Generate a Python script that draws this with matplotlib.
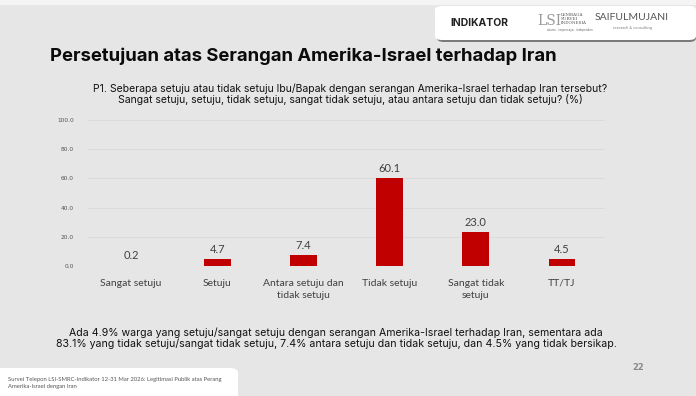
import matplotlib
matplotlib.use("Agg")
import matplotlib.pyplot as plt
from matplotlib.patches import FancyBboxPatch, Rectangle

# data
kategori = ["Sangat setuju", "Setuju", "Antara setuju dan\ntidak setuju",
            "Tidak setuju", "Sangat tidak\nsetuju", "TT/TJ"]
persen = [0.2, 4.7, 7.4, 60.1, 23.0, 4.5]
yticks = [0, 20, 40, 60, 80, 100]

BG = "#e7e6e6"
RED = "#c00000"
INK = "#0b0b0b"
GRAY = "#404040"

W, H = 696, 396
fig = plt.figure(figsize=(W / 100, H / 100), dpi=100)
fig.patch.set_facecolor(BG)


def fx(px):
    return px / W


def fy(py):
    return 1 - py / H


# top strip
fig.patches.append(Rectangle((0, fy(5)), 1, fy(0) - fy(5), transform=fig.transFigure,
                             facecolor="#f4f4f4", edgecolor="none", zorder=0))

# logo box with shadow
fig.patches.append(FancyBboxPatch((fx(437), fy(42)), fx(259), fy(7) - fy(42),
                                  boxstyle="round,pad=0,rounding_size=0.01",
                                  transform=fig.transFigure, facecolor="#7a7a7a",
                                  edgecolor="none", zorder=1))
fig.patches.append(FancyBboxPatch((fx(435), fy(40)), fx(261), fy(6) - fy(40),
                                  boxstyle="round,pad=0,rounding_size=0.01",
                                  transform=fig.transFigure, facecolor="white",
                                  edgecolor="none", zorder=2))
fig.text(fx(450), fy(23), "INDIKATOR", fontsize=7.5, weight="bold", family="Inter",
         color="#222222", va="center", ha="left", zorder=3)
fig.text(fx(537), fy(21), "LSI", fontsize=10, family="DejaVu Serif", color="#9a9a9a",
         va="center", ha="left", zorder=3)
fig.text(fx(561), fy(19), "LEMBAGA\nSURVEI\nINDONESIA", fontsize=3, family="DejaVu Serif",
         color="#555555", va="center", ha="left", linespacing=0.9, zorder=3)
fig.text(fx(570), fy(30), "akurat - terpercaya - independen", fontsize=2, color="#666666",
         va="center", ha="center", zorder=3)
fig.text(fx(632), fy(18), "SAIFULMUJANI", fontsize=7.5, family="Lato", color="#555555",
         va="center", ha="center", zorder=3)
fig.text(fx(632), fy(28), "research & consulting", fontsize=2.5, color="#777777",
         va="center", ha="center", zorder=3)

# title
fig.text(fx(50), fy(56), "Persetujuan atas Serangan Amerika-Israel terhadap Iran",
         fontsize=13.3, weight="bold", family="Inter", color=INK, va="center", ha="left")

# subtitle
fig.text(fx(350), fy(94),
         "P1. Seberapa setuju atau tidak setuju Ibu/Bapak dengan serangan Amerika-Israel terhadap Iran tersebut?\n"
         "Sangat setuju, setuju, tidak setuju, sangat tidak setuju, atau antara setuju dan tidak setuju? (%)",
         fontsize=7.5, family="Inter", color="#111111", ha="center", va="center",
         linespacing=1.05)

# chart
ax = fig.add_axes([fx(88), fy(266), fx(605) - fx(88), fy(120) - fy(266)])
ax.set_facecolor("none")
x = range(len(kategori))
bars = ax.bar(x, persen, width=0.31, color=RED, zorder=3)
for b, v in zip(bars, persen):
    ax.text(b.get_x() + b.get_width() / 2, v + 3, f"{v:.1f}", ha="center", va="bottom",
            fontsize=8, family="Lato", color=GRAY)
ax.set_xlim(-0.5, len(kategori) - 0.5)
ax.set_ylim(0, 100)
ax.set_yticks(yticks)
ax.set_yticklabels([f"{t:.1f}" for t in yticks], fontsize=4.2, color="#555555")
ax.set_xticks(list(x))
ax.set_xticklabels(kategori, fontsize=7.5, family="Lato", color=GRAY, linespacing=1.5,
                   va="top")
ax.tick_params(axis="both", length=0)
ax.tick_params(axis="y", pad=10)
ax.tick_params(axis="x", pad=9)
ax.grid(axis="y", color="#d9d9d9", lw=0.6, zorder=0)
for s in ax.spines.values():
    s.set_visible(False)

# bottom note
fig.text(fx(336), fy(338),
         "Ada 4.9% warga yang setuju/sangat setuju dengan serangan Amerika-Israel terhadap Iran, sementara ada\n"
         "83.1% yang tidak setuju/sangat tidak setuju, 7.4% antara setuju dan tidak setuju, dan 4.5% yang tidak bersikap.",
         fontsize=7.6, family="Inter", color="#111111", ha="center", va="center",
         linespacing=1.05)

# footer box
fig.patches.append(FancyBboxPatch((fx(-10), fy(400)), fx(248), fy(368) - fy(400),
                                  boxstyle="round,pad=0,rounding_size=0.012",
                                  transform=fig.transFigure, facecolor="white",
                                  edgecolor="none", zorder=1))
fig.text(fx(8), fy(383),
         "Survei Telepon LSI-SMRC-Indikator 12-31 Mar 2026: Legitimasi Publik atas Perang\n"
         "Amerika-Israel dengan Iran",
         fontsize=4.2, family="Lato", color="#555555", ha="left", va="center",
         linespacing=1.6, zorder=3)
fig.text(fx(638), fy(368), "22", fontsize=6, weight="bold", color="#8a8a8a",
         ha="center", va="center")

fig.savefig("out.png", dpi=100, facecolor=fig.get_facecolor())
